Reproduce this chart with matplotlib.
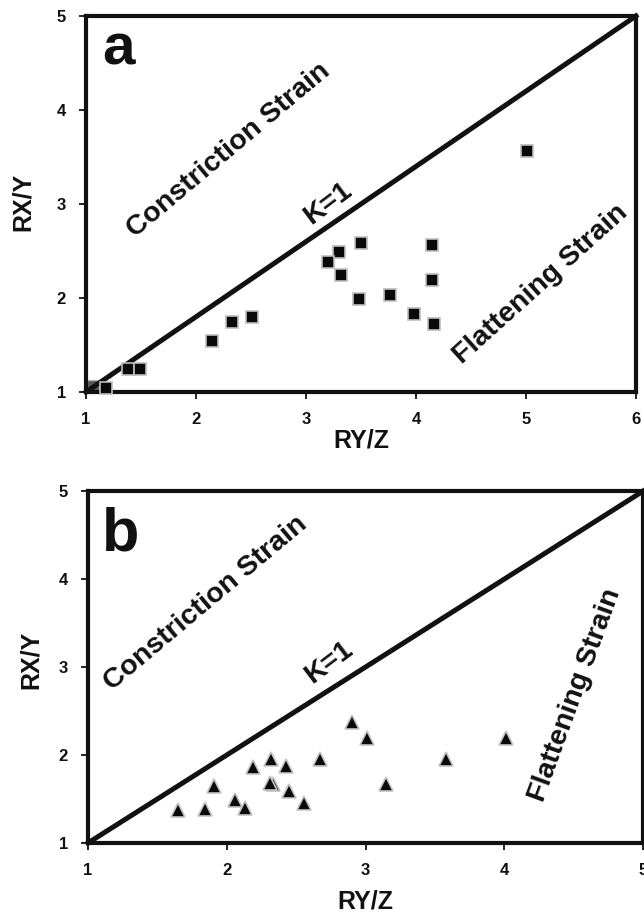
import matplotlib
matplotlib.use("Agg")
import matplotlib.pyplot as plt

plt.rcParams['font.family'] = ['Liberation Sans', 'DejaVu Sans']
plt.rcParams['font.weight'] = 'bold'

# Panel a data (RY/Z, RX/Y) - squares
a_ryz = [5.01, 3.50, 4.15, 3.30, 3.20, 3.32, 4.15, 3.48, 3.76, 3.98, 4.16,
         2.51, 2.33, 2.15, 1.38, 1.49, 1.18]
a_rxy = [3.56, 2.58, 2.56, 2.49, 2.385, 2.25, 2.19, 1.99, 2.03, 1.83, 1.72,
         1.80, 1.75, 1.54, 1.24, 1.24, 1.04]
# point partly hidden under the K=1 line
a_hidden_ryz = [1.06]
a_hidden_rxy = [1.06]

# Panel b data - triangles
b_ryz = [2.90, 3.01, 4.01, 3.58, 2.67, 2.32, 2.19, 2.43, 1.91, 2.335, 2.31,
         3.15, 2.45, 2.06, 2.56, 2.13, 1.65, 1.84]
b_rxy = [2.38, 2.19, 2.19, 1.95, 1.95, 1.95, 1.86, 1.88, 1.65, 1.67, 1.68,
         1.67, 1.59, 1.49, 1.45, 1.40, 1.38, 1.39]

# K=1 reference lines (corner to corner)
k1_a_x = [1, 6]
k1_a_y = [1, 5]
k1_b_x = [1, 5]
k1_b_y = [1, 5]

a_xticks = [1, 2, 3, 4, 5, 6]
b_xticks = [1, 2, 3, 4, 5]
yticks = [1, 2, 3, 4, 5]

fig = plt.figure(figsize=(6.44, 9.14), dpi=100)
ax_a = fig.add_axes([0.1335, 0.5711, 0.854, 0.4114])
ax_b = fig.add_axes([0.1366, 0.0777, 0.862, 0.3850])

ink = '#111111'


def style_axes(ax, xmax, xticks):
    ax.set_xlim(1, xmax)
    ax.set_ylim(1, 5)
    ax.set_xticks(xticks)
    ax.set_yticks(yticks)
    for s in ax.spines.values():
        s.set_linewidth(3.0)
        s.set_color(ink)
    ax.tick_params(direction='out', length=5, width=1.3, pad=9.5,
                   labelsize=12, colors=ink)
    for lbl in ax.get_xticklabels() + ax.get_yticklabels():
        lbl.set_fontweight('bold')
    ax.set_xlabel('RY/Z', fontsize=18, fontweight='bold', color=ink, va='center')
    ax.set_ylabel('RX/Y', fontsize=18, fontweight='bold', color=ink, va='center')


# ---- panel a ----
style_axes(ax_a, 6, a_xticks)
ax_a.plot(a_hidden_ryz, a_hidden_rxy, 's', ms=8, mfc='#555555', mec='#bbbbbb',
          mew=1.0, zorder=2)
ax_a.plot(k1_a_x, k1_a_y, color=ink, lw=3.6, zorder=3, clip_on=False)
ax_a.plot(a_ryz, a_rxy, 's', ms=8, mfc='#0a0a0a', mec='#bdbdbd', mew=1.2,
          zorder=4, clip_on=False)
ax_a.text(0.03, 0.872, 'a', transform=ax_a.transAxes, fontsize=42,
          fontweight='bold', color=ink, va='baseline', ha='left')
ax_a.text(2.30, 3.57, 'Constriction Strain', rotation=40, fontsize=20.5,
          fontweight='bold', color=ink, ha='center', va='center')
ax_a.text(3.20, 3.00, 'K=1', rotation=37, fontsize=20.5,
          fontweight='bold', color=ink, ha='center', va='center')
ax_a.text(5.13, 2.15, 'Flattening Strain', rotation=42, fontsize=20.5,
          fontweight='bold', color=ink, ha='center', va='center')
ax_a.xaxis.set_label_coords(0.5, -0.128)
ax_a.yaxis.set_label_coords(-0.114, 0.505)

# ---- panel b ----
style_axes(ax_b, 5, b_xticks)
ax_b.plot(k1_b_x, k1_b_y, color=ink, lw=3.6, zorder=3, clip_on=False)
ax_b.plot(b_ryz, b_rxy, '^', ms=10.5, mfc='#0a0a0a', mec='#c4c4c4', mew=1.2,
          zorder=4)
ax_b.text(0.025, 0.832, 'b', transform=ax_b.transAxes, fontsize=44,
          fontweight='bold', color=ink, va='baseline', ha='left')
ax_b.text(1.85, 3.73, 'Constriction Strain', rotation=40, fontsize=20.5,
          fontweight='bold', color=ink, ha='center', va='center')
ax_b.text(2.74, 3.05, 'K=1', rotation=37, fontsize=20.5,
          fontweight='bold', color=ink, ha='center', va='center')
ax_b.text(4.51, 2.68, 'Flattening Strain', rotation=70, fontsize=20.5,
          fontweight='bold', color=ink, ha='center', va='center')
ax_b.xaxis.set_label_coords(0.5, -0.165)
ax_b.yaxis.set_label_coords(-0.103, 0.52)

fig.savefig('out.png', dpi=100)
